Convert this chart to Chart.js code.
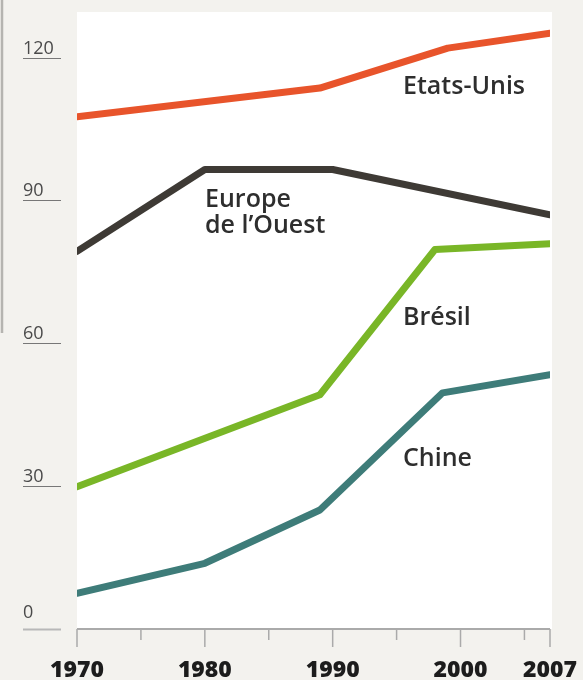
<!DOCTYPE html>
<html>
<head>
<meta charset="utf-8">
<script src="https://cdn.jsdelivr.net/npm/chart.js@4.4.1/dist/chart.umd.min.js"></script>
<style>
  html, body { margin: 0; padding: 0; background: #f3f2ee; }
  #wrap { width: 583px; height: 680px; }
</style>
</head>
<body>
<div id="wrap"><canvas id="myChart" width="583" height="680"></canvas></div>
<script>
// valeurs
const usYears = [1970, 1989, 1999, 2007];
const usValues = [107.6, 113.6, 122, 125.1];

const euYears = [1970, 1980, 1990, 2007];
const euValues = [79.3, 96.5, 96.5, 87];

const brYears = [1970, 1989, 1998, 2007];
const brValues = [29.9, 49.2, 79.7, 80.9];

const cnYears = [1970, 1980, 1989, 1998.6, 2007];
const cnValues = [7.5, 13.8, 25, 49.6, 53.4];

const yTicks = [0, 30, 60, 90, 120];
const xMajor = [1970, 1980, 1990, 2000, 2007];
const xMinor = [1975, 1985, 1995, 2005];

function toPoints(years, values) {
    return years.map(function (y, i) { return { x: y, y: values[i] }; });
}

function line(label, years, values, color) {
    return {
        label: label,
        data: toPoints(years, values),
        borderColor: color,
        borderWidth: 7,
        borderCapStyle: 'round',
        borderJoinStyle: 'round',
        pointRadius: 0,
        tension: 0
    };
}

// fond blanc + trait gris a gauche
const background = {
    id: 'background',
    beforeDraw: function (chart) {
        const ctx = chart.ctx;
        const a = chart.chartArea;
        ctx.save();
        ctx.fillStyle = '#f3f2ee';
        ctx.fillRect(0, 0, chart.width, chart.height);
        ctx.fillStyle = '#ffffff';
        ctx.fillRect(a.left, a.top + 2, a.right - a.left + 2, a.bottom - a.top - 2);
        ctx.strokeStyle = '#b5b4b0';
        ctx.lineWidth = 2.5;
        ctx.beginPath();
        ctx.moveTo(2, 0);
        ctx.lineTo(2, 333);
        ctx.stroke();
        ctx.restore();
    }
};

// axes dessines a la main
const axes = {
    id: 'axes',
    afterDraw: function (chart) {
        const ctx = chart.ctx;
        const xs = chart.scales.x;
        const ys = chart.scales.y;
        const y0 = ys.getPixelForValue(0);
        ctx.save();

        // axe y : chiffres soulignes
        ctx.font = '500 18px "Open Sans"';
        ctx.textAlign = 'left';
        ctx.textBaseline = 'alphabetic';
        yTicks.forEach(function (t) {
            const py = Math.round(ys.getPixelForValue(t)) + 0.5;
            ctx.fillStyle = '#4a4a4a';
            ctx.fillText(String(t), 23, py - (t === 0 ? 12 : 5));
            ctx.strokeStyle = t === 0 ? '#b8b8b8' : '#777777';
            ctx.lineWidth = t === 0 ? 2 : 1;
            ctx.beginPath();
            ctx.moveTo(23, py);
            ctx.lineTo(61, py);
            ctx.stroke();
        });

        // axe x
        ctx.strokeStyle = '#aaaaaa';
        ctx.lineWidth = 2;
        ctx.beginPath();
        ctx.moveTo(xs.getPixelForValue(1970), y0);
        ctx.lineTo(xs.getPixelForValue(2007), y0);
        ctx.stroke();

        ctx.lineWidth = 1.5;
        xMajor.forEach(function (t) {
            const px = xs.getPixelForValue(t);
            ctx.beginPath();
            ctx.moveTo(px, y0);
            ctx.lineTo(px, y0 + 18);
            ctx.stroke();
        });
        xMinor.forEach(function (t) {
            const px = xs.getPixelForValue(t);
            ctx.beginPath();
            ctx.moveTo(px, y0);
            ctx.lineTo(px, y0 + 11);
            ctx.stroke();
        });

        ctx.fillStyle = '#1c1c1c';
        ctx.font = '800 23px "Open Sans"';
        ctx.textAlign = 'center';
        xMajor.forEach(function (t) {
            ctx.fillText(String(t), xs.getPixelForValue(t), 677);
        });

        // noms des series
        ctx.fillStyle = '#2e2e2e';
        ctx.font = '600 25px "Open Sans"';
        ctx.textAlign = 'left';
        ctx.fillText('Etats-Unis', 403, 94);
        ctx.fillText('Europe', 205, 207);
        ctx.fillText('de l\u2019Ouest', 205, 233);
        ctx.fillText('Brésil', 403, 325);
        ctx.fillText('Chine', 403, 466);

        ctx.restore();
    }
};

new Chart(document.getElementById('myChart'), {
    type: 'line',
    data: {
        datasets: [
            line('Etats-Unis', usYears, usValues, '#e8542b'),
            line('Europe de l\u2019Ouest', euYears, euValues, '#3e3a35'),
            line('Brésil', brYears, brValues, '#79b627'),
            line('Chine', cnYears, cnValues, '#3e7c79')
        ]
    },
    options: {
        responsive: false,
        animation: false,
        layout: { padding: { left: 77, right: 33, top: 10, bottom: 51 } },
        plugins: {
            legend: { display: false },
            tooltip: { enabled: false }
        },
        scales: {
            x: { type: 'linear', min: 1970, max: 2007, display: false },
            y: { min: 0, max: 130, display: false }
        }
    },
    plugins: [background, axes]
});
</script>
</body>
</html>
